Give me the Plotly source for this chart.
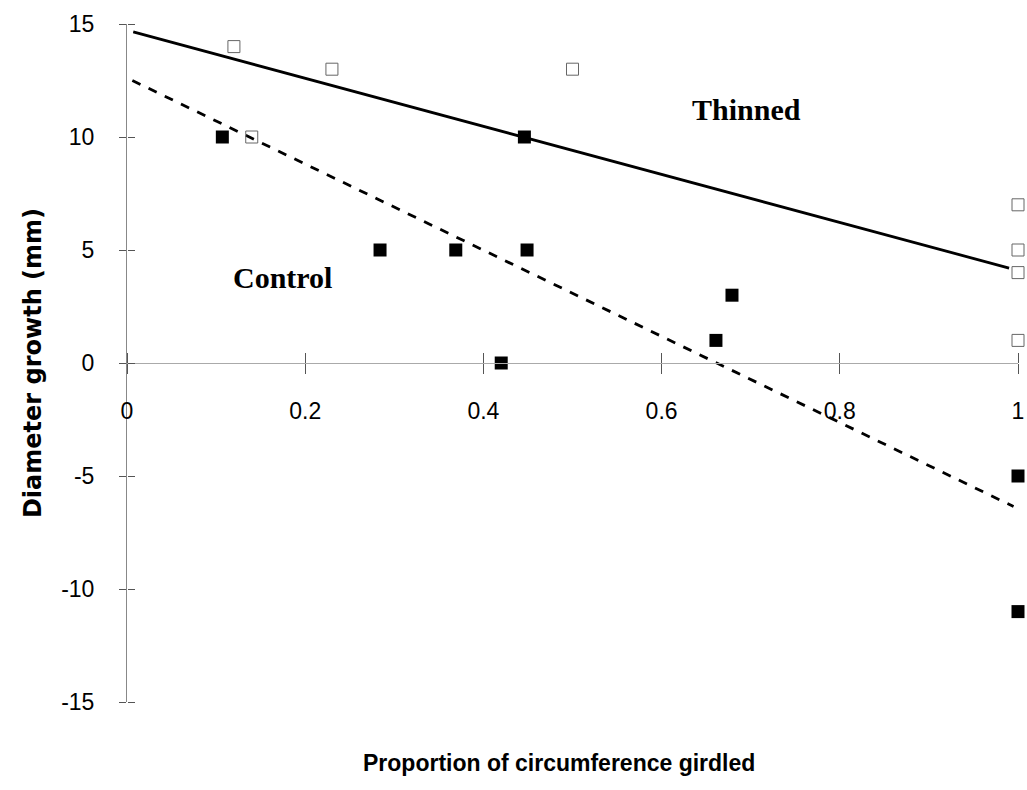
import plotly.graph_objects as go

# Thinned (open squares)
thinned_x = [0.12, 0.23, 0.50, 0.14, 1.0, 1.0, 1.0, 1.0]
thinned_y = [14, 13, 13, 10, 7, 5, 4, 1]

# Control (filled squares)
control_x = [0.107, 0.284, 0.369, 0.446, 0.449, 0.42, 0.661, 0.679, 1.0, 1.0]
control_y = [10, 5, 5, 10, 5, 0, 1, 3, -5, -11]

# Fitted lines
thinned_fit_x = [0.007, 0.99]
thinned_fit_y = [14.65, 4.2]
control_fit_x = [0.006, 0.995]
control_fit_y = [12.5, -6.35]

x_ticks = [0, 0.2, 0.4, 0.6, 0.8, 1]
x_tick_labels = ["0", "0.2", "0.4", "0.6", "0.8", "1"]
y_ticks = [-15, -10, -5, 0, 5, 10, 15]
y_tick_labels = ["-15", "-10", "-5", "0", "5", "10", "15"]

fig = go.Figure()
fig.add_trace(go.Scatter(x=thinned_fit_x, y=thinned_fit_y, mode="lines",
                         line=dict(color="black", width=2.8), showlegend=False))
fig.add_trace(go.Scatter(x=control_fit_x, y=control_fit_y, mode="lines",
                         line=dict(color="black", width=2.8, dash="dash"), showlegend=False))
fig.add_trace(go.Scatter(x=thinned_x, y=thinned_y, mode="markers",
                         marker=dict(symbol="square-open", size=12, color="#666666",
                                     line=dict(width=1, color="#666666")),
                         cliponaxis=False, showlegend=False))
fig.add_trace(go.Scatter(x=control_x, y=control_y, mode="markers",
                         marker=dict(symbol="square", size=13, color="black"),
                         cliponaxis=False, showlegend=False))

tickfont = dict(family="Liberation Sans, Arial, sans-serif", size=23, color="black")

fig.update_layout(
    width=1027, height=790,
    margin=dict(l=127, r=9, t=24, b=88),
    plot_bgcolor="white", paper_bgcolor="white",
    xaxis=dict(range=[0, 1], tickvals=x_ticks, ticktext=x_tick_labels,
               anchor="free", position=0.5, showline=True, linecolor="#aaaaaa",
               linewidth=1, ticks="outside", ticklen=10, tickcolor="#555555",
               tickfont=tickfont, ticklabelstandoff=17, showgrid=False, zeroline=False,
               automargin=False),
    xaxis2=dict(range=[0, 1], tickvals=x_ticks, overlaying="x", anchor="free",
                position=0.5, side="top", ticks="outside", ticklen=10,
                tickcolor="#555555", showticklabels=False, showgrid=False,
                zeroline=False, showline=False, automargin=False),
    yaxis=dict(range=[-15, 15], tickvals=y_ticks, ticktext=y_tick_labels,
               anchor="x", showline=True, linecolor="#888888", linewidth=1,
               ticks="outside", ticklen=7, tickcolor="#555555",
               tickfont=tickfont, ticklabelstandoff=20, showgrid=False, zeroline=False,
               automargin=False,
               title=dict(text="<b>Diameter growth (mm)</b>", standoff=12,
                          font=dict(family="DejaVu Sans, sans-serif", size=24, color="black"))),
    yaxis2=dict(range=[-15, 15], tickvals=y_ticks, overlaying="y", anchor="free",
                position=0, side="right", ticks="outside", ticklen=7,
                tickcolor="#555555", showticklabels=False, showgrid=False,
                zeroline=False, showline=False, automargin=False),
    annotations=[
        dict(text="<b>Proportion of circumference girdled</b>", xref="x", yref="paper",
             x=0.485, y=-0.09, xanchor="center", yanchor="middle", showarrow=False,
             font=dict(family="Liberation Sans, Arial, sans-serif", size=23, color="black")),
        dict(text="<b>Thinned</b>", xref="x", yref="y", x=0.695, y=11.2, showarrow=False,
             xanchor="center", yanchor="middle",
             font=dict(family="Liberation Serif, Times New Roman, serif", size=30, color="black")),
        dict(text="<b>Control</b>", xref="x", yref="y", x=0.174, y=3.8, showarrow=False,
             xanchor="center", yanchor="middle",
             font=dict(family="Liberation Serif, Times New Roman, serif", size=30, color="black")),
    ],
)
# invisible trace so the overlay axes (crossing tick halves) are rendered
fig.add_trace(go.Scatter(x=[0], y=[0], xaxis="x2", yaxis="y2", mode="markers",
                         marker=dict(opacity=0), showlegend=False, hoverinfo="skip"))

fig.write_html("out.html")
